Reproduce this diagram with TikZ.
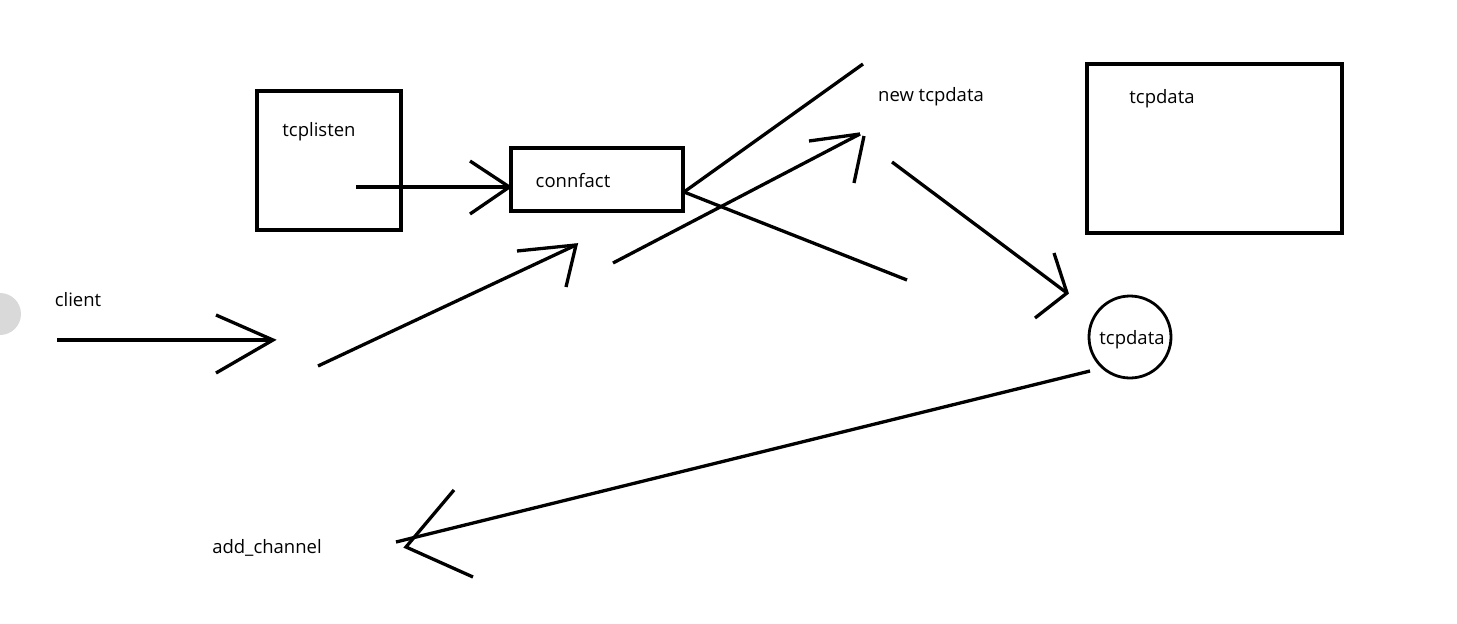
\documentclass[tikz,border=0pt]{standalone}
\usepackage{fontspec}
\setmainfont{Open Sans}
\usetikzlibrary{positioning}

\begin{document}
\begin{tikzpicture}[
    x=1pt, y=-1pt,
    font=\fontsize{18.5}{22}\selectfont,
    box/.style={draw, line width=3.2pt, inner sep=0pt},
    ring/.style={draw, circle, line width=2.8pt, inner sep=0pt, minimum size=82pt},
    lbl/.style={inner sep=0pt},
    pen/.style={line width=3.3pt}
]
\useasboundingbox (0,0) rectangle (1457,624);
\node[circle, fill=black!15, minimum size=42pt, inner sep=0pt] (dot) at (0,314) {};
\node[box, minimum width=144pt, minimum height=139pt] (listen) at (329,160.5) {};
\node[box, minimum width=172pt, minimum height=63pt] (fact) at (597,179.5) {};
\node[box, minimum width=255pt, minimum height=169pt] (data) at (1214.5,148.5) {};
\node[ring] (ring) at (1130,337) {};
\node[lbl] (client) at (78,300) {client};
\node[lbl] (listenlbl) at (319,132) {tcplisten};
\node[lbl] (factlbl) at (573,181) {connfact};
\node[lbl] (newlbl) at (931,97) {new tcpdata};
\node[lbl] (datalbl) at (1162,99) {tcpdata};
\node[lbl] (ringlbl) at (1132,340) {tcpdata};
\node[lbl] (addlbl) at (267,548) {add\_channel};
\coordinate (s1) at (57,340);
\coordinate (t1) at (273,340);
\coordinate (s2) at (318,366);
\coordinate (t2) at (576,245);
\coordinate (s3) at (356,187);
\coordinate (out) at (684,192);
\coordinate (up) at (863,64);
\coordinate (down) at (907,280);
\coordinate (s4) at (613,263);
\coordinate (t4) at (860,134);
\coordinate (s5) at (892,162);
\coordinate (t5) at (1067,293);
\coordinate (s6) at (1090,371);
\coordinate (e6) at (396,542);
\coordinate (t6) at (406,547);
\draw[pen] (s1) -- (t1);
\draw[pen] (216,315) -- (t1) -- (216,373);
\draw[pen] (s2) -- (t2);
\draw[pen] (517,251) -- (t2) -- (566,287);
\draw[pen] (s3) -- (fact.west |- s3);
\draw[pen] (470,161) -- (fact.west |- s3) -- (470,214);
\draw[pen] (out) -- (up);
\draw[pen] (out) -- (down);
\draw[pen] (s4) -- (t4);
\draw[pen] (809,141) -- (t4);
\draw[pen] (854,183) -- (864,136);
\draw[pen] (s5) -- (t5);
\draw[pen] (1054,253) -- (t5) -- (1035,318);
\draw[pen] (s6) -- (e6);
\draw[pen] (454,490) -- (t6) -- (473,577);
\end{tikzpicture}
\end{document}
